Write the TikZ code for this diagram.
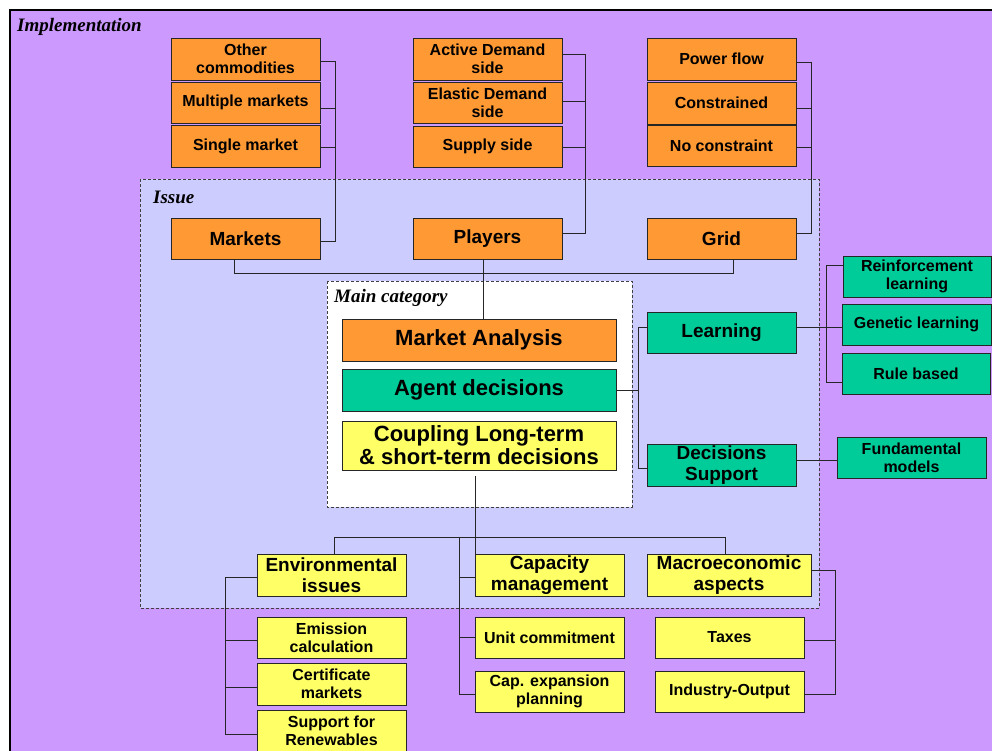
\documentclass[tikz,border=0pt]{standalone}
\usepackage{fontspec}
\setmainfont{Liberation Sans}
\newfontfamily\serifit{Liberation Serif}
\definecolor{impl}{RGB}{204,153,255}
\definecolor{issue}{RGB}{204,204,255}
\definecolor{oran}{RGB}{255,153,51}
\definecolor{gree}{RGB}{0,204,153}
\definecolor{yell}{RGB}{255,255,102}
\begin{document}
\begin{tikzpicture}[x=1pt,y=-1pt,
  box/.style={draw=black!85, line width=0.9pt, inner sep=0pt, align=center, text=black,
    minimum width=149pt, minimum height=42pt},
  sm/.style={font=\bfseries\fontsize{16}{18}\selectfont},
  md/.style={font=\bfseries\fontsize{19}{21}\selectfont},
  lg/.style={font=\bfseries\fontsize{22}{23}\selectfont},
  ob/.style={box, fill=oran},
  gb/.style={box, fill=gree},
  yb/.style={box, fill=yell},
  conn/.style={draw=black!85, line width=0.8pt},
  lbl/.style={anchor=west, inner sep=0pt, font=\serifit\bfseries\itshape\fontsize{19}{21}\selectfont},
  frame/.style={draw=black!75, line width=0.8pt, dash pattern=on 3pt off 2pt}]
\useasboundingbox (0,0) rectangle (992,751);
\clip (0,0) rectangle (992,751);
\fill[white] (0,0) rectangle (992,751);
\draw[fill=impl, line width=2pt] (10,10) rectangle (1010,770);
\node[lbl] (limpl) at (17,27) {Implementation};
% Issue frame
\draw[frame, fill=issue] (140,179) rectangle (819,608);
\node[lbl] (lissue) at (153,197) {Issue};
% Main category frame
\draw[frame, fill=white] (327,281) rectangle (632,507);
\node[lbl] (lmain) at (334,298) {Main category};

% top column 1
\node[ob, sm] (oc) at (245.5,59) {Other\\commodities};
\node[ob, sm, minimum height=41pt] (mm) at (245.5,102.5) {Multiple markets};
\node[ob, sm] (smk) at (245.5,146) {Single market};
\node[ob, md, minimum height=41pt] (mk) at (245.5,238.5) {Markets};
% top column 2
\node[ob, sm] (ad) at (487.5,59) {Active Demand\\side};
\node[ob, sm, minimum height=41pt] (ed) at (487.5,102.5) {Elastic Demand\\side};
\node[ob, sm, minimum height=41pt] (ss) at (487.5,146.5) {Supply side};
\node[ob, md, minimum height=41pt] (pl) at (487.5,238.5) {Players};
% top column 3
\node[ob, sm] (pf) at (721.5,59) {Power flow};
\node[ob, sm] (co) at (721.5,103) {Constrained};
\node[ob, sm, minimum height=41pt] (nc) at (721.5,145.5) {No constraint};
\node[ob, md, minimum height=41pt] (gr) at (721.5,238.5) {Grid};

% main category
\node[ob, lg, minimum width=274pt] (ma) at (479,340) {Market Analysis};
\node[gb, lg, minimum width=274pt] (ag) at (479,390) {Agent decisions};
\node[yb, lg, minimum width=274pt, minimum height=49pt] (cp) at (479,445.5) {Coupling Long-term\\\& short-term decisions};

% green right
\node[gb, md, minimum height=41pt] (le) at (721.5,332.5) {Learning};
\node[gb, md] (ds) at (721.5,465) {Decisions\\Support};
\node[gb, sm, minimum width=148pt, minimum height=41pt] (rl) at (917,276.5) {Reinforcement\\learning};
\node[gb, sm, minimum height=41pt] (gl) at (916.5,324.5) {Genetic learning};
\node[gb, sm, minimum width=148pt, minimum height=41pt] (rb) at (916,373.5) {Rule based};
\node[gb, sm, minimum height=41pt] (fm) at (911.5,457.5) {Fundamental\\models};

% bottom
\node[yb, md] (ei) at (331.5,575) {Environmental\\issues};
\node[yb, sm, minimum height=41pt] (ec) at (331.5,637.5) {Emission\\calculation};
\node[yb, sm] (ctm) at (331.5,684) {Certificate\\markets};
\node[yb, sm] (sr) at (331.5,731) {Support for\\Renewables};
\node[yb, md] (cm) at (549.5,575) {Capacity\\management};
\node[yb, sm, minimum height=41pt] (uc) at (549.5,637.5) {Unit commitment};
\node[yb, sm, minimum height=41pt] (ce) at (549.5,691.5) {Cap. expansion\\planning};
\node[yb, md, minimum width=164pt] (mac) at (729,575) {Macroeconomic\\aspects};
\node[yb, sm, minimum height=41pt] (tx) at (729.5,637.5) {Taxes};
\node[yb, sm, minimum height=41pt] (io) at (729.5,691.5) {Industry-Output};

% connectors column 1
\draw[conn] ([yshift=-2pt]oc.east) -| ([xshift=15pt,yshift=-2.5pt]mk.east) -- ([yshift=-2.5pt]mk.east);
\draw[conn] ([yshift=-5.5pt]mm.east) -- ++(15,0);
\draw[conn] ([yshift=-1pt]smk.east) -- ++(15,0);
% column 2
\draw[conn] ([yshift=5pt]ad.east) -| ([xshift=23pt,yshift=5.5pt]pl.east) -- ([yshift=5.5pt]pl.east);
\draw[conn] ([yshift=1.5pt]ed.east) -- ++(23,0);
\draw[conn] ([yshift=-0.5pt]ss.east) -- ++(23,0);
% column 3
\draw[conn] ([yshift=-3pt]pf.east) -| ([xshift=15pt,yshift=5.5pt]gr.east) -- ([yshift=5.5pt]gr.east);
\draw[conn] ([yshift=-5pt]co.east) -- ++(15,0);
\draw[conn] ([yshift=-1.5pt]nc.east) -- ++(15,0);
% issue row
\draw[conn] ([xshift=-11.5pt]mk.south) -- ++(0,14) -| ([xshift=11.5pt]gr.south);
\draw[conn] ([xshift=-4.5pt]pl.south) -- ([xshift=-4.5pt]pl.south |- ma.north);
% agent decisions
\draw[conn] (ag.east) -- ++(23,0);
\draw[conn] ([yshift=5.5pt]le.west) -| ([xshift=-8pt,yshift=-3pt]ds.west) -- ([yshift=-3pt]ds.west);
% learning
\draw[conn] ([yshift=5.5pt]le.east) -- ([yshift=5.5pt]le.east -| gl.west);
\draw[conn] ([yshift=11.5pt]rl.west) -| ([xshift=-15pt,yshift=-8.5pt]rb.west) -- ([yshift=-8.5pt]rb.west);
\draw[conn] ([yshift=5pt]ds.east) -- ([yshift=5pt]ds.east -| fm.west);
% bottom tree
\draw[conn] ([xshift=-4pt,yshift=-6pt]cp.south) -- ([xshift=-4pt]cp.south |- ei.north) ++(0,-16) coordinate (jn);
\draw[conn] ([xshift=2.5pt]ei.north) |- (jn) -| ([xshift=-4pt]mac.north);
\draw[conn] ([yshift=-2.5pt]ce.west) -- ++(-15,0) coordinate (cb) -- (cb |- jn);
\draw[conn] ([yshift=-2pt]cm.west) -- ++(-15,0);
\draw[conn] (uc.west) -- ++(-15,0);
\draw[conn] ([yshift=-2pt]ei.west) -| ([xshift=-31pt,yshift=-3pt]sr.west) -- ([yshift=-3pt]sr.west);
\draw[conn] ([yshift=-2.5pt]ec.west) -- ++(-31,0);
\draw[conn] ([yshift=-3pt]ctm.west) -- ++(-31,0);
\draw[conn] ([yshift=5pt]mac.east) -| ([xshift=31pt,yshift=-2.5pt]io.east) -- ([yshift=-2.5pt]io.east);
\draw[conn] ([yshift=-2.5pt]tx.east) -- ++(31,0);
\end{tikzpicture}
\end{document}
